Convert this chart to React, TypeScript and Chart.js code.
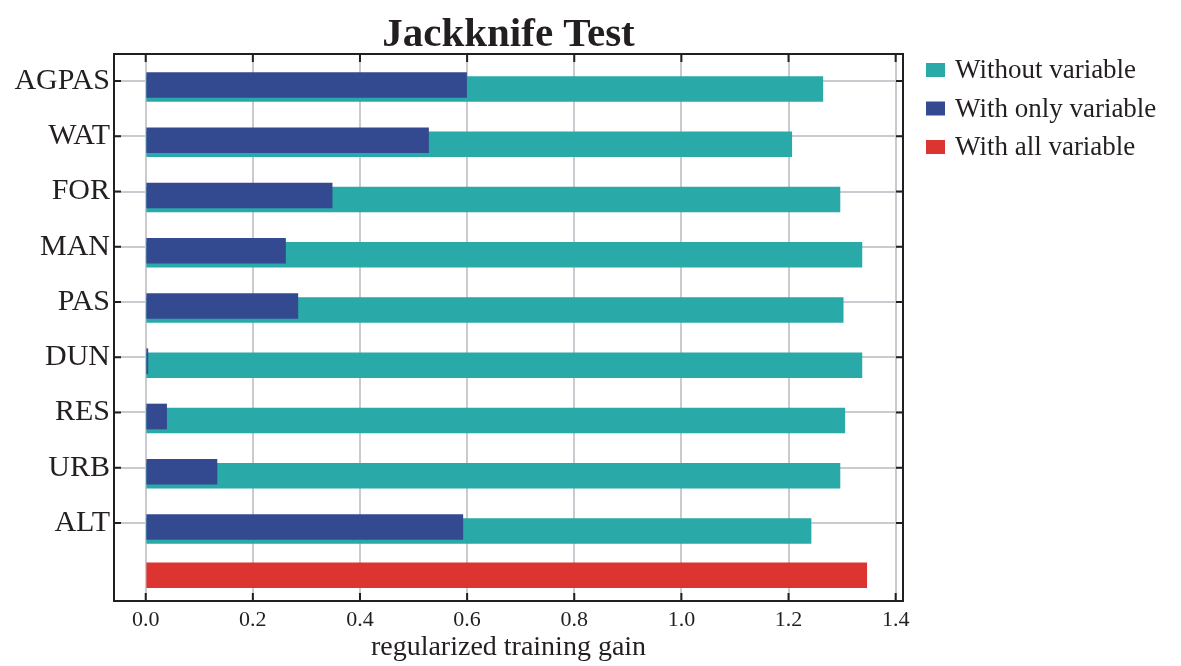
import React, { useEffect, useRef } from 'react';
import { Chart, registerables } from 'chart.js';

Chart.register(...registerables);

// ---- data ----
const categories = ['AGPAS', 'WAT', 'FOR', 'MAN', 'PAS', 'DUN', 'RES', 'URB', 'ALT'];
const withoutVariable = [1.264, 1.206, 1.296, 1.337, 1.302, 1.337, 1.305, 1.296, 1.242];
const withOnlyVariable = [0.599, 0.528, 0.348, 0.261, 0.284, 0.004, 0.039, 0.133, 0.592];
const withAllVariable = [1.346];
const allVariableRow = 9;
const xTickValues = [0, 0.2, 0.4, 0.6, 0.8, 1.0, 1.2, 1.4];
const seriesNames = ['Without variable', 'With only variable', 'With all variable'];
const chartTitle = 'Jackknife Test';
const xAxisTitle = 'regularized training gain';

// ---- style ----
const FONT = "'Liberation Serif', 'Times New Roman', serif";
const TEXT = '#231f20';
const GRID = '#cacad0';
const TEAL = '#29a9a7';
const BLUE = '#344a90';
const RED = '#dc3431';

const X_MIN = -0.0592;
const X_MAX = 1.4137;
const Y_MIN = -0.489;
const Y_MAX = 9.412;
const ROW_PX = 55.25;

const framePlugin = {
  id: 'frame',
  afterDatasetsDraw(chart: any) {
    const { ctx, chartArea: a, scales } = chart;
    const x = scales.x;
    const y = scales.y;
    ctx.save();
    ctx.strokeStyle = TEXT;
    ctx.lineWidth = 2;
    ctx.strokeRect(a.left, a.top, a.right - a.left, a.bottom - a.top);
    ctx.beginPath();
    x.ticks.forEach((t: any) => {
      const px = x.getPixelForValue(t.value);
      ctx.moveTo(px, a.top);
      ctx.lineTo(px, a.top + 8);
      ctx.moveTo(px, a.bottom);
      ctx.lineTo(px, a.bottom - 8);
    });
    y.ticks.forEach((t: any) => {
      const py = y.getPixelForValue(t.value);
      ctx.moveTo(a.left, py);
      ctx.lineTo(a.left + 7, py);
      ctx.moveTo(a.right, py);
      ctx.lineTo(a.right - 7, py);
    });
    ctx.stroke();
    ctx.restore();
  },
};

// legend drawn beside the plot area, from the datasets' own labels and colours
const sideLegendPlugin = {
  id: 'sideLegend',
  afterDraw(chart: any) {
    const { ctx, chartArea: a } = chart;
    ctx.save();
    ctx.font = `27px ${FONT}`;
    ctx.textBaseline = 'middle';
    ctx.textAlign = 'left';
    chart.data.datasets.forEach((ds: any, i: number) => {
      const cy = a.top + 16 + i * 38.5;
      const bx = a.right + 23;
      ctx.fillStyle = ds.backgroundColor;
      ctx.fillRect(bx, cy - 7, 19, 14);
      ctx.fillStyle = TEXT;
      ctx.fillText(ds.label, bx + 29, cy + 1);
    });
    ctx.restore();
  },
};

export default function App() {
  const ref = useRef<HTMLCanvasElement | null>(null);

  useEffect(() => {
    if (!ref.current) return;
    const hiddenAxis = (shiftPx: number) => ({
      type: 'linear',
      display: false,
      reverse: true,
      offset: false,
      min: Y_MIN - shiftPx / ROW_PX,
      max: Y_MAX - shiftPx / ROW_PX,
    });

    const chart = new Chart(ref.current, {
      type: 'bar',
      data: {
        datasets: [
          {
            label: seriesNames[0],
            data: withoutVariable.map((v, i) => ({ x: v, y: i })),
            backgroundColor: TEAL,
            borderWidth: 0,
            barThickness: 25,
            grouped: false,
            yAxisID: 'yT',
            order: 1,
          },
          {
            label: seriesNames[1],
            data: withOnlyVariable.map((v, i) => ({ x: v, y: i })),
            backgroundColor: BLUE,
            borderWidth: 0,
            barThickness: 25,
            grouped: false,
            yAxisID: 'yB',
            order: 0,
          },
          {
            label: seriesNames[2],
            data: withAllVariable.map((v) => ({ x: v, y: allVariableRow })),
            backgroundColor: RED,
            borderWidth: 0,
            barThickness: 25,
            grouped: false,
            yAxisID: 'yR',
            order: 2,
          },
        ],
      },
      options: {
        indexAxis: 'y',
        responsive: false,
        animation: false,
        devicePixelRatio: 1,
        layout: { padding: { left: 0, right: 278, top: 0, bottom: 0 } },
        plugins: {
          tooltip: { enabled: false },
          title: { display: false },
          legend: { display: false },
        },
        scales: {
          x: {
            type: 'linear',
            position: 'bottom',
            min: X_MIN,
            max: X_MAX,
            offset: false,
            afterBuildTicks: (s: any) => {
              s.ticks = xTickValues.map((v) => ({ value: v }));
            },
            ticks: {
              callback: (v: any) => Number(v).toFixed(1),
              font: { family: FONT, size: 22 },
              color: TEXT,
              padding: 6,
              maxRotation: 0,
              autoSkip: false,
            },
            grid: { color: GRID, lineWidth: 2, drawTicks: false, offset: false },
            border: { display: false },
            title: {
              display: true,
              text: xAxisTitle,
              color: TEXT,
              font: { family: FONT, size: 28 },
              padding: { top: 0, bottom: 2 },
            },
            afterFit: (s: any) => {
              s.height = 65;
            },
          },
          xTop: {
            type: 'linear',
            position: 'top',
            min: X_MIN,
            max: X_MAX,
            display: true,
            ticks: { display: false },
            grid: { display: false, drawTicks: false },
            border: { display: false },
            title: {
              display: true,
              text: chartTitle,
              color: TEXT,
              font: { family: FONT, size: 41, weight: 'bold' },
              padding: { top: 11, bottom: 0 },
            },
            afterFit: (s: any) => {
              s.height = 54;
            },
          },
          y: {
            type: 'linear',
            position: 'left',
            reverse: true,
            offset: false,
            min: Y_MIN,
            max: Y_MAX,
            afterBuildTicks: (s: any) => {
              s.ticks = categories.map((_, i) => ({ value: i }));
            },
            ticks: {
              callback: (v: any) => categories[v] ?? '',
              font: { family: FONT, size: 30 },
              color: TEXT,
              padding: 4,
              autoSkip: false,
            },
            grid: { color: GRID, lineWidth: 2, drawTicks: false, offset: false },
            border: { display: false },
            afterFit: (s: any) => {
              s.width = 114;
            },
          },
          yT: hiddenAxis(8),
          yB: hiddenAxis(4),
          yR: hiddenAxis(-3),
        },
      } as any,
      plugins: [framePlugin, sideLegendPlugin],
    } as any);

    return () => chart.destroy();
  }, []);

  return (
    <div style={{ position: 'fixed', left: 0, top: 0, width: 1181, height: 666, background: '#fff' }}>
      <canvas ref={ref} width={1181} height={666} style={{ display: 'block' }} />
    </div>
  );
}
